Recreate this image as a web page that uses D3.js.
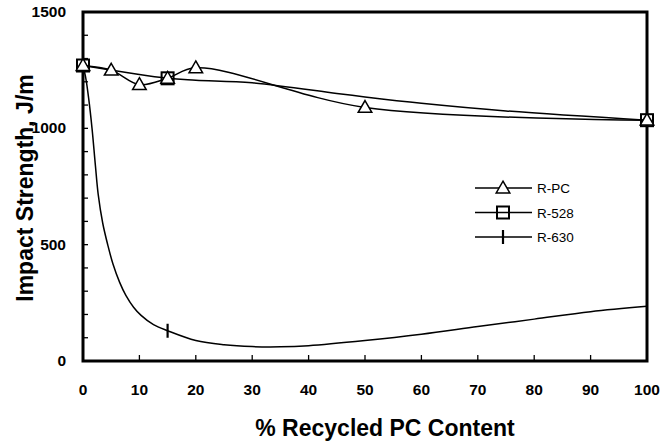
<!DOCTYPE html>
<html>
<head>
<meta charset="utf-8">
<script src="https://cdn.jsdelivr.net/npm/d3@7"></script>
<style>
  body { margin: 0; background: #fff; }
  text { font-family: "Liberation Sans", Arial, sans-serif; }
</style>
</head>
<body>
<div id="chart"></div>
<script>
var margin = {top: 12, right: 18, bottom: 85, left: 83},
    width = 665 - margin.left - margin.right,
    height = 446 - margin.top - margin.bottom;

// measured points (markers)
var pcX = [0, 5, 10, 15, 20, 50, 100];
var pcY = [1270, 1250, 1188, 1215, 1260, 1090, 1035];
var r528X = [0, 15, 100];
var r528Y = [1270, 1215, 1035];
var r630X = [15];
var r630Y = [130];

// fitted curves
var r528CurveX = [0, 15, 20, 30, 45, 50, 60, 75, 100];
var r528CurveY = [1270, 1215, 1207, 1196, 1150, 1135, 1108, 1075, 1035];
var r630CurveX = [0, 0.5, 1, 1.6, 2.2, 2.7, 3.5, 4.4, 5.3, 6.5, 7.6, 9, 10.3, 12.5, 15, 20, 25, 30, 35, 40, 50, 60, 70, 80, 90, 100];
var r630CurveY = [1270, 1215, 1130, 1000, 840, 715, 592, 498, 418, 338, 282, 230, 196, 156, 130, 88, 70, 62, 61, 66, 88, 115, 148, 180, 212, 235];

var seriesNames = ["R-PC", "R-528", "R-630"];
var xTicks = [0, 10, 20, 30, 40, 50, 60, 70, 80, 90, 100];
var yTicks = [0, 500, 1000, 1500];

var zip = function(xs, ys) {
    return xs.map(function(x, i) { return [x, ys[i]]; });
};

var x = d3.scaleLinear().domain([0, 100]).range([0, width]);
var y = d3.scaleLinear().domain([0, 1500]).range([height, 0]);

var svg = d3.select("#chart").append("svg")
    .attr("width", width + margin.left + margin.right)
    .attr("height", height + margin.top + margin.bottom)
  .append("g")
    .attr("transform", "translate(" + margin.left + "," + margin.top + ")");

// minor ticks on y (inside)
var yMinor = d3.range(100, 1500, 100);
svg.selectAll(".ymin").data(yMinor).enter().append("line")
    .attr("x1", 0).attr("x2", 5)
    .attr("y1", function(d) { return y(d); })
    .attr("y2", function(d) { return y(d); })
    .attr("stroke", "#000").attr("stroke-width", 1.3);

// x ticks inside
svg.selectAll(".xt").data(xTicks.slice(1, -1)).enter().append("line")
    .attr("x1", function(d) { return x(d); })
    .attr("x2", function(d) { return x(d); })
    .attr("y1", height).attr("y2", height - 6)
    .attr("stroke", "#000").attr("stroke-width", 1.3);

// tick labels
svg.selectAll(".xl").data(xTicks).enter().append("text")
    .attr("x", function(d) { return x(d); })
    .attr("y", height + 34)
    .attr("text-anchor", "middle")
    .style("font-size", "15.5px").style("font-weight", "bold")
    .text(function(d) { return d; });

svg.selectAll(".yl").data(yTicks).enter().append("text")
    .attr("x", -17)
    .attr("y", function(d) { return y(d) + 5; })
    .attr("text-anchor", "end")
    .style("font-size", "15.5px").style("font-weight", "bold")
    .text(function(d) { return d; });

// frame
svg.append("rect")
    .attr("width", width).attr("height", height)
    .attr("fill", "none").attr("stroke", "#000").attr("stroke-width", 3);

var line = d3.line()
    .x(function(d) { return x(d[0]); })
    .y(function(d) { return y(d[1]); })
    .curve(d3.curveCatmullRom.alpha(0.5));

[zip(pcX, pcY), zip(r528CurveX, r528CurveY), zip(r630CurveX, r630CurveY)].forEach(function(pts) {
    svg.append("path")
        .datum(pts)
        .attr("d", line)
        .attr("fill", "none")
        .attr("stroke", "#000")
        .attr("stroke-width", 1.5);
});

// markers
var tri = d3.symbol().type(d3.symbolTriangle).size(80);
var drawTri = function(g, px, py) {
    g.append("path")
        .attr("d", tri())
        .attr("transform", "translate(" + px + "," + (py + 1) + ")")
        .attr("fill", "#fff").attr("stroke", "#000").attr("stroke-width", 1.5);
};
var drawSq = function(g, px, py) {
    g.append("rect")
        .attr("x", px - 6).attr("y", py - 6)
        .attr("width", 12).attr("height", 12)
        .attr("fill", "none").attr("stroke", "#000").attr("stroke-width", 2);
};
var drawBar = function(g, px, py) {
    g.append("line")
        .attr("x1", px).attr("x2", px)
        .attr("y1", py - 7).attr("y2", py + 7)
        .attr("stroke", "#000").attr("stroke-width", 2.2);
};

zip(r528X, r528Y).forEach(function(d) { drawSq(svg, x(d[0]), y(d[1])); });
zip(pcX, pcY).forEach(function(d) { drawTri(svg, x(d[0]), y(d[1])); });
zip(r630X, r630Y).forEach(function(d) { drawBar(svg, x(d[0]), y(d[1])); });

// legend
var legend = svg.append("g").attr("transform", "translate(392,176)");
var drawers = [drawTri, drawSq, drawBar];
seriesNames.forEach(function(name, i) {
    var gy = i * 24.5;
    legend.append("line")
        .attr("x1", 0).attr("x2", 57)
        .attr("y1", gy).attr("y2", gy)
        .attr("stroke", "#000").attr("stroke-width", 1.5);
    drawers[i](legend, 28, gy);
    legend.append("text")
        .attr("x", 62).attr("y", gy + 5)
        .style("font-size", "13.5px")
        .text(name);
});

// axis titles
svg.append("text")
    .attr("x", 385 - margin.left)
    .attr("y", height + 75)
    .attr("text-anchor", "middle")
    .style("font-size", "23px").style("font-weight", "bold")
    .text("% Recycled PC Content");

svg.append("text")
    .attr("transform", "rotate(-90)")
    .attr("x", -(188 - margin.top))
    .attr("y", 33 - margin.left)
    .attr("text-anchor", "middle")
    .style("font-size", "23px").style("font-weight", "bold")
    .text("Impact Strength, J/m");
</script>
</body>
</html>
